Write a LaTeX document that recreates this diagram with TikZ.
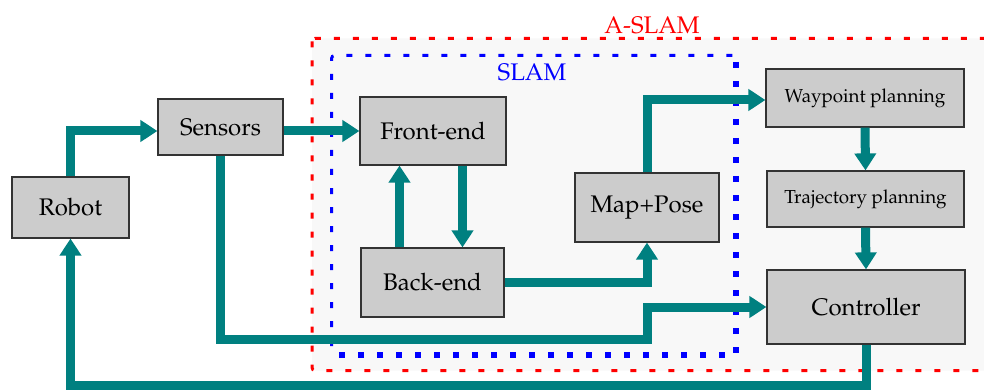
\documentclass[tikz,border=0pt]{standalone}
\usepackage[T1]{fontenc}
\usepackage{mathpazo}
\usetikzlibrary{arrows.meta,calc}
\definecolor{teal8}{HTML}{008080}
\definecolor{boxfill}{HTML}{CCCCCC}
\definecolor{boxline}{HTML}{333333}
\definecolor{bgfill}{HTML}{F8F8F8}
\tikzset{
  blk/.style={draw=boxline, line width=1.2pt, fill=boxfill, inner sep=0pt, font=\fontsize{24}{28}\selectfont},
  sblk/.style={blk, font=\fontsize{18.8}{22}\selectfont},
  arr/.style={draw=teal8, line width=9pt, line join=miter, -{Triangle[width=21pt,length=17pt]}},
  lnk/.style={draw=teal8, line width=9pt, line join=miter},
}
\begin{document}
\begin{tikzpicture}[x=1pt,y=-1pt]
\useasboundingbox (0,0) rectangle (984,390);
% A-SLAM region
\fill[bgfill, rounded corners=3pt] (312,38.5) rectangle (995,370.5);
\draw[red, line width=3pt, dash pattern=on 6pt off 13pt, rounded corners=3pt] (312,38.5) rectangle (995,370.5);
\node[red, font=\fontsize{24}{28}\selectfont] (aslamlbl) at (652,25) {A-SLAM};
% SLAM region
\draw[blue, line width=3pt, dash pattern=on 6pt off 13pt, rounded corners=3pt] (331.5,346) -- (331.5,55.5) -- (736,55.5);
\draw[blue, line width=6pt, dash pattern=on 6pt off 13pt] (736,62) -- (736,354.5) -- (338,354.5);
\node[blue, font=\fontsize{24}{28}\selectfont] (slamlbl) at (532,72) {SLAM};
% blocks
\node[blk, minimum width=117pt, minimum height=61pt] (Robot) at (70.5,207.5) {Robot};
\node[blk, minimum width=125pt, minimum height=56pt] (Sensors) at (220.5,127) {Sensors};
\node[blk, minimum width=146pt, minimum height=68pt] (Front) at (433,131) {Front-end};
\node[blk, minimum width=143pt, minimum height=69pt] (Back) at (432.5,282.5) {Back-end};
\node[blk, minimum width=144pt, minimum height=69pt] (Map) at (647,207.5) {Map+Pose};
\node[sblk, minimum width=198pt, minimum height=58pt] (Way) at (865,98) {Waypoint planning};
\node[sblk, minimum width=197pt, minimum height=56pt] (Traj) at (865.5,199) {Trajectory planning};
\node[blk, minimum width=198pt, minimum height=74pt] (Ctrl) at (866,307) {Controller};
% junction coordinates
\coordinate (j1) at (647,339.5);
\coordinate (j2) at (470,385.5);
% connectors
\draw[arr] (Robot.north) |- ([yshift=-4pt]Sensors.west);
\draw[arr] ([yshift=-4pt]Sensors.east) -- (Front.west);
\draw[arr] (Sensors.south) |- (j1) |- (Ctrl.west);
\draw[arr] (Ctrl.south) |- (j2) -| (Robot.south);
\draw[arr] ([xshift=29.5pt]Front.south) -- ([xshift=29.5pt]Front.south |- Back.north);
\draw[arr] ([xshift=-33pt]Back.north) -- ([xshift=-33pt]Back.north |- Front.south);
\draw[arr] (Back.east) -| (Map.south);
\draw[arr] (Map.north) |- ([yshift=-2pt]Way.west);
\draw[arr] (Way.south) -- (Traj.north);
\draw[arr] (Traj.south) -- (Ctrl.north);
\end{tikzpicture}
\end{document}
